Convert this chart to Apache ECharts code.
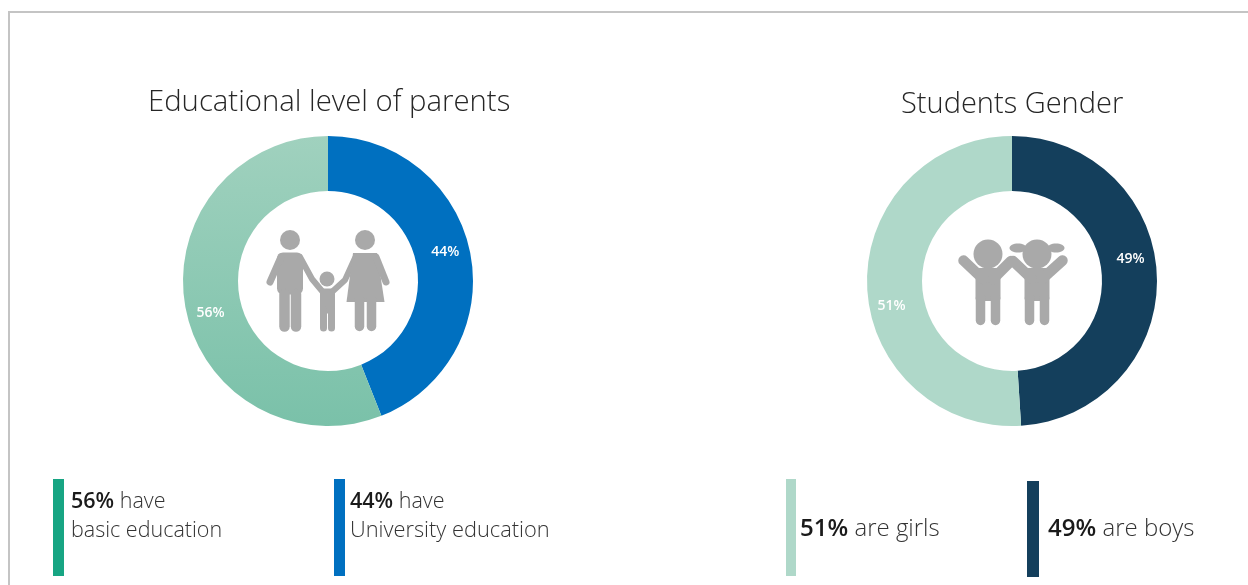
<!DOCTYPE html>
<html>
<head>
<meta charset="utf-8">
<style>html,body{margin:0;padding:0;background:#fff}#chart{width:1248px;height:585px}</style>
<script src="https://cdn.jsdelivr.net/npm/echarts@6/dist/echarts.min.js"></script>
</head>
<body>
<div id="chart"></div>
<script>
// Survey shares shown by the two doughnuts
const educationNames = ['University education', 'basic education'];
const educationValues = [44, 56];
const genderNames = ['boys', 'girls'];
const genderValues = [49, 51];
const chartTitles = ['Educational level of parents', 'Students Gender'];

const GREY = '#a9a9a9';
const FONT = '"Open Sans", "Noto Sans", sans-serif';

const chart = echarts.init(document.getElementById('chart'), null, { renderer: 'canvas' });

function limb(points, width) {
  return {
    type: 'polyline',
    shape: { points },
    style: { stroke: GREY, lineWidth: width, lineCap: 'round', lineJoin: 'round', fill: null }
  };
}
function disc(cx, cy, r) {
  return { type: 'circle', shape: { cx, cy, r }, style: { fill: GREY } };
}
function block(x, y, w, h, r) {
  return { type: 'rect', shape: { x, y, width: w, height: h, r: r || 0 }, style: { fill: GREY } };
}
function shape(points) {
  return { type: 'polygon', shape: { points }, style: { fill: GREY } };
}

// Pictogram of two parents holding a child's hands
const familyIcon = [
  disc(290, 240, 10),
  block(277, 252.5, 26, 42, 6),
  limb([[281, 257], [270, 282]], 7),
  limb([[300, 257], [312, 279], [322, 291]], 6),
  limb([[284.5, 294], [284.5, 326.5]], 10.5),
  limb([[296, 294], [296, 326.5]], 10.5),
  disc(327, 279, 7.5),
  block(320, 288.5, 15, 25, 2),
  limb([[323.5, 310], [323.5, 328]], 7),
  limb([[331.5, 310], [331.5, 328]], 7),
  limb([[333, 291], [345, 280], [355, 258]], 6),
  disc(365, 240, 10),
  shape([[353, 253], [377, 253], [384.5, 302], [346.5, 302]]),
  limb([[357, 256.5], [373, 256.5]], 7),
  limb([[376, 257], [386, 282]], 7),
  limb([[359.5, 300], [359.5, 326.5]], 9.5),
  limb([[371.5, 300], [371.5, 326.5]], 9.5)
];

// Pictogram of a boy and a girl with raised arms
const kidsIcon = [
  disc(988, 254, 14.5),
  block(975.5, 268, 25, 33, 3),
  limb([[980.5, 298], [980.5, 320.5]], 9.5),
  limb([[995.5, 298], [995.5, 320.5]], 9.5),
  limb([[983, 279], [963.5, 260.5]], 10.5),
  limb([[993, 279], [1011, 261]], 10.5),
  disc(1037, 254, 14.5),
  block(1024.5, 268, 25, 33, 3),
  limb([[1029.5, 298], [1029.5, 320.5]], 9.5),
  limb([[1044.5, 298], [1044.5, 320.5]], 9.5),
  limb([[1032, 279], [1013, 261]], 10.5),
  limb([[1042, 279], [1062.5, 260.5]], 10.5),
  { type: 'ellipse', shape: { cx: 1018, cy: 248, rx: 8.5, ry: 4.5 }, style: { fill: GREY } },
  { type: 'ellipse', shape: { cx: 1056, cy: 248, rx: 8.5, ry: 4.5 }, style: { fill: GREY } }
];

function legendBar(x, y, w, h, color) {
  return { type: 'rect', shape: { x, y, width: w, height: h }, style: { fill: color } };
}
function note(x, y, pct, rest, size) {
  return {
    type: 'text', x, y,
    style: {
      text: '{b|' + pct + '%}{r| ' + rest + '}',
      verticalAlign: 'middle',
      rich: {
        b: { fontFamily: FONT, fontSize: size, fontWeight: 600, fill: '#1a1a1a' },
        r: { fontFamily: FONT, fontSize: size, fontWeight: 300, fill: '#333333' }
      }
    }
  };
}
function line(x, y, content, size) {
  return {
    type: 'text', x, y,
    style: { text: content, verticalAlign: 'middle', fontFamily: FONT, fontSize: size, fontWeight: 300, fill: '#333333' }
  };
}

function doughnut(center, names, values, colors, nudges) {
  return {
    type: 'pie',
    center,
    radius: [90, 145],
    startAngle: 90,
    clockwise: true,
    silent: true,
    animation: false,
    label: {
      position: 'inside',
      formatter: '{c}%',
      color: '#ffffff',
      fontFamily: FONT,
      fontSize: 14,
      fontWeight: 600
    },
    labelLine: { show: false },
    labelLayout: p => ({ dx: nudges[p.dataIndex][0], dy: nudges[p.dataIndex][1] }),
    data: names.map((name, i) => ({ name, value: values[i], itemStyle: { color: colors[i] } }))
  };
}

const mintFade = new echarts.graphic.LinearGradient(0, 0, 0, 1, [
  { offset: 0, color: '#a0d1be' },
  { offset: 1, color: '#7ac1a9' }
]);

chart.setOption({
  backgroundColor: '#ffffff',
  animation: false,
  title: [
    { text: chartTitles[0], left: 148, top: 88, padding: 0, textStyle: { fontFamily: FONT, fontSize: 29.3, fontWeight: 300, color: '#262626' } },
    { text: chartTitles[1], left: 901, top: 90, padding: 0, textStyle: { fontFamily: FONT, fontSize: 29, fontWeight: 300, color: '#262626' } }
  ],
  series: [
    doughnut([328, 281], educationNames, educationValues, ['#0070c0', mintFade], [[-1, -6], [1, 9]]),
    doughnut([1012, 281], genderNames, genderValues, ['#143f5c', '#afd8c9'], [[-2, -18], [0, 21]])
  ],
  graphic: [
    { type: 'rect', shape: { x: 9, y: 12, width: 1245, height: 600 }, style: { fill: 'none', stroke: '#c4c4c4', lineWidth: 2 } },
    ...familyIcon,
    ...kidsIcon,
    legendBar(53, 479, 11, 97, '#17a583'),
    legendBar(334, 479, 11, 97, '#0070c0'),
    legendBar(786, 479, 10, 97, '#afd8c9'),
    legendBar(1027, 481, 12, 96, '#143f5c'),
    note(71, 502, educationValues[1], 'have', 21.5),
    line(71, 531, educationNames[1], 21.5),
    note(350, 502, educationValues[0], 'have', 21.5),
    line(350, 531, educationNames[0], 21.8),
    note(800, 529, genderValues[1], 'are girls', 24),
    note(1048, 529, genderValues[0], 'are boys', 24)
  ]
});
</script>
</body>
</html>
